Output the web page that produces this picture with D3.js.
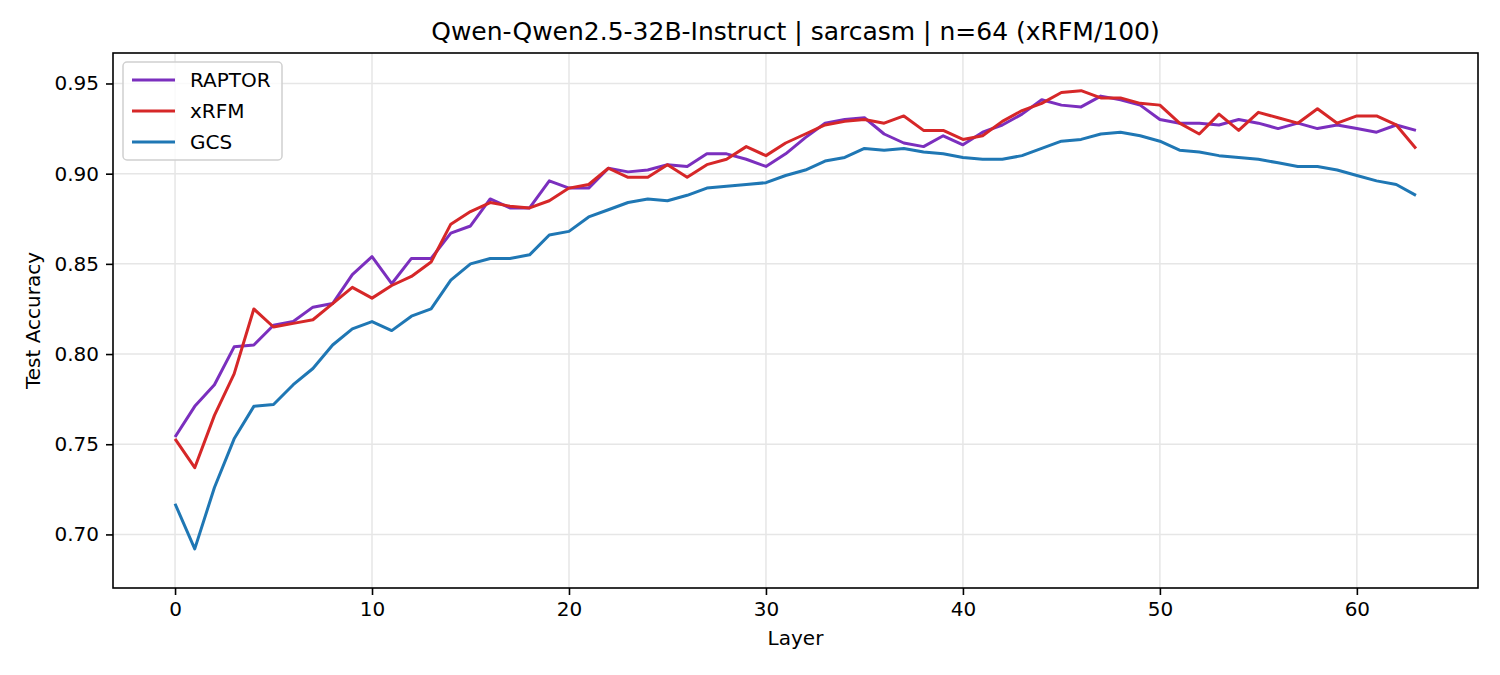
<!DOCTYPE html>
<html>
<head>
<meta charset="utf-8">
<title>Layer accuracy</title>
<script src="https://d3js.org/d3.v7.min.js"></script>
<style>
  body { margin: 0; background: #fff; }
  text { font-family: "DejaVu Sans", sans-serif; fill: #000; }
</style>
</head>
<body>
<script>
// layer index on x
var layers = d3.range(64);

var raptor = [0.754, 0.771, 0.783, 0.804, 0.805, 0.816, 0.818, 0.826, 0.828, 0.844,
  0.854, 0.839, 0.853, 0.853, 0.867, 0.871, 0.886, 0.881, 0.881, 0.896,
  0.892, 0.892, 0.903, 0.901, 0.902, 0.905, 0.904, 0.911, 0.911, 0.908,
  0.904, 0.911, 0.920, 0.928, 0.930, 0.931, 0.922, 0.917, 0.915, 0.921,
  0.916, 0.923, 0.927, 0.933, 0.941, 0.938, 0.937, 0.943, 0.941, 0.938,
  0.930, 0.928, 0.928, 0.927, 0.930, 0.928, 0.925, 0.928, 0.925, 0.927,
  0.925, 0.923, 0.927, 0.924];

var xrfm = [0.753, 0.737, 0.766, 0.789, 0.825, 0.815, 0.817, 0.819, 0.828, 0.837,
  0.831, 0.838, 0.843, 0.851, 0.872, 0.879, 0.884, 0.882, 0.881, 0.885,
  0.892, 0.894, 0.903, 0.898, 0.898, 0.905, 0.898, 0.905, 0.908, 0.915,
  0.910, 0.917, 0.922, 0.927, 0.929, 0.930, 0.928, 0.932, 0.924, 0.924,
  0.919, 0.921, 0.929, 0.935, 0.939, 0.945, 0.946, 0.942, 0.942, 0.939,
  0.938, 0.928, 0.922, 0.933, 0.924, 0.934, 0.931, 0.928, 0.936, 0.928,
  0.932, 0.932, 0.927, 0.914];

var gcs = [0.717, 0.692, 0.726, 0.753, 0.771, 0.772, 0.783, 0.792, 0.805, 0.814,
  0.818, 0.813, 0.821, 0.825, 0.841, 0.850, 0.853, 0.853, 0.855, 0.866,
  0.868, 0.876, 0.880, 0.884, 0.886, 0.885, 0.888, 0.892, 0.893, 0.894,
  0.895, 0.899, 0.902, 0.907, 0.909, 0.914, 0.913, 0.914, 0.912, 0.911,
  0.909, 0.908, 0.908, 0.910, 0.914, 0.918, 0.919, 0.922, 0.923, 0.921,
  0.918, 0.913, 0.912, 0.910, 0.909, 0.908, 0.906, 0.904, 0.904, 0.902,
  0.899, 0.896, 0.894, 0.888];

var seriesNames = ['RAPTOR', 'xRFM', 'GCS'];
var seriesColors = ['#7b2fbe', '#d62728', '#1f77b4'];
var xTicks = [0, 10, 20, 30, 40, 50, 60];
var yTicks = [0.70, 0.75, 0.80, 0.85, 0.90, 0.95];

var W = 1500, H = 675;
var m = { left: 113, right: 22, top: 53, bottom: 87 };
var iw = W - m.left - m.right, ih = H - m.top - m.bottom;

var svg = d3.select('body').append('svg')
  .attr('width', W).attr('height', H);

var x = d3.scaleLinear().domain([-3.15, 66.15]).range([0, iw]);
var y = d3.scaleLinear().domain([0.6703, 0.9669]).range([ih, 0]);

var g = svg.append('g').attr('transform', 'translate(' + m.left + ',' + m.top + ')');

// grid
g.append('g').selectAll('line').data(xTicks).enter().append('line')
  .attr('x1', function(d) { return x(d); }).attr('x2', function(d) { return x(d); })
  .attr('y1', 0).attr('y2', ih)
  .attr('stroke', '#e6e6e6').attr('stroke-width', 1.5);
g.append('g').selectAll('line').data(yTicks).enter().append('line')
  .attr('y1', function(d) { return y(d); }).attr('y2', function(d) { return y(d); })
  .attr('x1', 0).attr('x2', iw)
  .attr('stroke', '#e6e6e6').attr('stroke-width', 1.5);

// lines
var allSeries = [raptor, xrfm, gcs];
var line = d3.line()
  .x(function(d, i) { return x(layers[i]); })
  .y(function(d) { return y(d); });

g.selectAll('path.series').data(allSeries).enter().append('path')
  .attr('class', 'series')
  .attr('d', line)
  .attr('fill', 'none')
  .attr('stroke', function(d, i) { return seriesColors[i]; })
  .attr('stroke-width', 3)
  .attr('stroke-linejoin', 'round');

// axes
var xAxis = d3.axisBottom(x).tickValues(xTicks).tickSize(7).tickPadding(7)
  .tickFormat(d3.format('d'));
var yAxis = d3.axisLeft(y).tickValues(yTicks).tickSize(7).tickPadding(7)
  .tickFormat(d3.format('.2f'));

var gx = g.append('g').attr('transform', 'translate(0,' + ih + ')').call(xAxis);
var gy = g.append('g').call(yAxis);
[gx, gy].forEach(function(a) {
  a.select('.domain').remove();
  a.selectAll('line').attr('stroke', '#000').attr('stroke-width', 1.6);
  a.selectAll('text').style('font-size', '20px').attr('fill', '#000');
});

// frame
g.append('rect').attr('width', iw).attr('height', ih)
  .attr('fill', 'none').attr('stroke', '#000').attr('stroke-width', 1.6);

// labels
svg.append('text').attr('x', m.left + iw / 2).attr('y', 40)
  .attr('text-anchor', 'middle').style('font-size', '25px')
  .text('Qwen-Qwen2.5-32B-Instruct | sarcasm | n=64 (xRFM/100)');
svg.append('text').attr('x', m.left + iw / 2).attr('y', 645)
  .attr('text-anchor', 'middle').style('font-size', '20px').text('Layer');
svg.append('text').attr('transform', 'translate(40,' + (m.top + ih / 2) + ') rotate(-90)')
  .attr('text-anchor', 'middle').style('font-size', '20px').text('Test Accuracy');

// legend
var lg = svg.append('g').attr('transform', 'translate(123,62)');
lg.append('rect').attr('width', 159).attr('height', 98).attr('rx', 4)
  .attr('fill', '#fff').attr('fill-opacity', 0.8)
  .attr('stroke', '#d0d0d0').attr('stroke-width', 1.5);
var items = lg.selectAll('g.item').data(seriesNames).enter().append('g')
  .attr('class', 'item')
  .attr('transform', function(d, i) { return 'translate(0,' + (18 + i * 31) + ')'; });
items.append('line').attr('x1', 9).attr('x2', 52)
  .attr('stroke', function(d, i) { return seriesColors[i]; }).attr('stroke-width', 3);
items.append('text').attr('x', 67).attr('dy', '0.36em')
  .style('font-size', '20px').text(function(d) { return d; });
</script>
</body>
</html>
